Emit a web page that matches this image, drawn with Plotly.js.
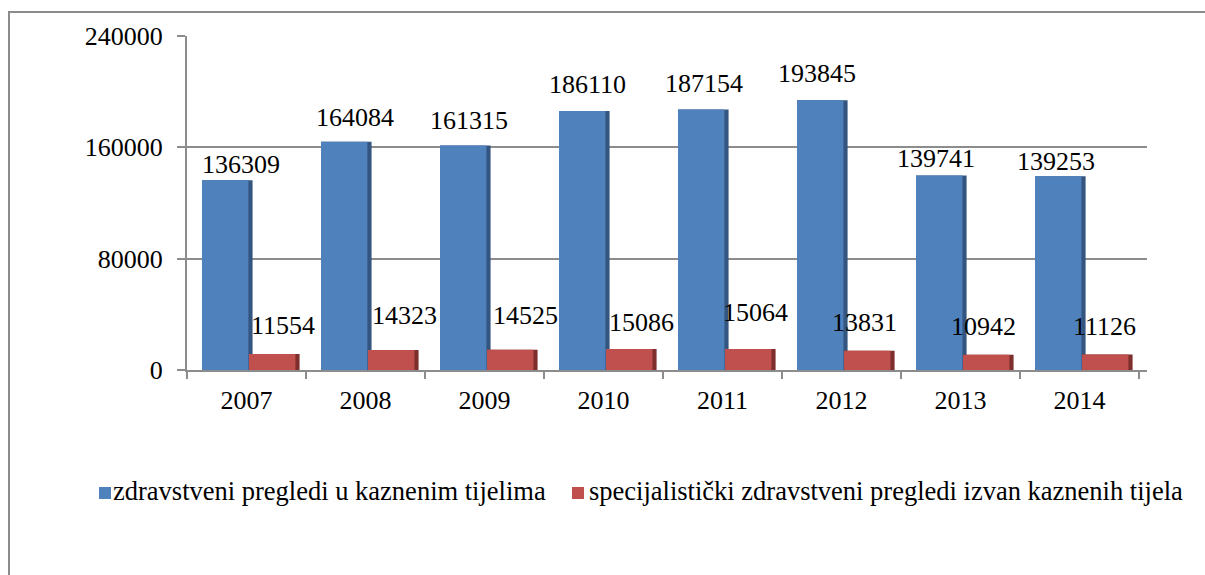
<!DOCTYPE html>
<html>
<head>
<meta charset="utf-8">
<script src="https://cdn.plot.ly/plotly-3.0.1.min.js"></script>
<style>
html,body{margin:0;padding:0;width:1205px;height:575px;overflow:hidden;background:#ffffff;}
#frame{position:absolute;left:8px;top:11px;width:1400px;height:900px;border-left:2px solid #8c8c8c;border-top:2px solid #8c8c8c;}
#chart{position:absolute;left:0;top:0;width:1205px;height:575px;}
</style>
</head>
<body>
<div id="frame"></div>
<div id="chart"></div>
<script>
// ---- data ----
const years = ['2007','2008','2009','2010','2011','2012','2013','2014'];
const seriesNames = ['zdravstveni pregledi u kaznenim tijelima',
                     'specijalistički zdravstveni pregledi izvan kaznenih tijela'];
const preglediUTijelima = [136309,164084,161315,186110,187154,193845,139741,139253];
const specijalistickiIzvan = [11554,14323,14525,15086,15064,13831,10942,11126];
const yTickValues = [0,80000,160000,240000];

// ---- label nudges (pixels, layout only) ----
const blueNudgeX = [13.5,8.5,4,3,1,-5.5,-5.5,-4.5];
const blueNudgeY = [6,15,16,17,17,17,8,5];
const redNudgeX  = [9,11,13,10,5,-5,-5,-2.5];
const redNudgeY  = [19,25,25,17,27,19,19,19];

// ---- style ----
const FONT = '"Liberation Serif", "Times New Roman", serif';
const blueFace = '#4f81bd', blueSide = '#34557f';
const redFace  = '#c0504d', redSide  = '#7e2f2d';
const blueOff = -0.374, redOff = 0.021;
const sideW = 0.425, faceW = 0.39;
const faceColors = [blueFace, redFace];

function barTrace(vals, off, w, color, name){
  return {type:'bar', x: years, y: vals, offset: off, width: w,
          marker:{color: color, line:{width:0}}, name: name,
          showlegend: false, hoverinfo:'skip'};
}
const traces = [
  barTrace(preglediUTijelima, blueOff, sideW, blueSide, seriesNames[0]),
  barTrace(preglediUTijelima, blueOff, faceW, blueFace, seriesNames[0]),
  barTrace(specijalistickiIzvan, redOff, sideW, redSide, seriesNames[1]),
  barTrace(specijalistickiIzvan, redOff, faceW, redFace, seriesNames[1])
];

const annotations = [];
years.forEach((yr, i) => {
  annotations.push({x: i + blueOff + sideW/2, y: preglediUTijelima[i], xref:'x', yref:'y',
    text: String(preglediUTijelima[i]), showarrow:false, yanchor:'bottom', xanchor:'center',
    xshift: blueNudgeX[i], yshift: blueNudgeY[i] - 7,
    font:{family:FONT, size:26, color:'#000'}});
  annotations.push({x: i + redOff + sideW/2, y: specijalistickiIzvan[i], xref:'x', yref:'y',
    text: String(specijalistickiIzvan[i]), showarrow:false, yanchor:'bottom', xanchor:'center',
    xshift: redNudgeX[i], yshift: redNudgeY[i] - 7,
    font:{family:FONT, size:26, color:'#000'}});
});

// ---- manual legend (pixel layout -> paper coords) ----
const PL = 187, PW = 960, PT = 36, PH = 334;
const px2x = p => (p - PL) / PW;
const py2y = p => (PT + PH - p) / PH;
const markerSize = 12, markerCY = 493, textCY = 491, legendFont = 26.5;
const legendMarkerLeft = [99, 572];
const shapes = [];
seriesNames.forEach((nm, k) => {
  const x0 = legendMarkerLeft[k];
  shapes.push({type:'rect', xref:'paper', yref:'paper',
    x0: px2x(x0), x1: px2x(x0 + markerSize),
    y0: py2y(markerCY + markerSize/2), y1: py2y(markerCY - markerSize/2),
    fillcolor: faceColors[k], line:{width:0}});
});
annotations.push({xref:'paper', yref:'paper', x: px2x(548), y: py2y(textCY),
  xanchor:'right', yanchor:'middle', showarrow:false, text: seriesNames[0],
  font:{family:FONT, size:legendFont, color:'#000'}});
annotations.push({xref:'paper', yref:'paper', x: px2x(587), y: py2y(textCY),
  xanchor:'left', yanchor:'middle', showarrow:false, text: seriesNames[1],
  font:{family:FONT, size:legendFont, color:'#000'}});

const layout = {
  width:1205, height:575,
  margin:{l:187, r:58, t:36, b:205, pad:0},
  paper_bgcolor:'rgba(0,0,0,0)', plot_bgcolor:'rgba(0,0,0,0)',
  barmode:'overlay',
  font:{family:FONT, size:26, color:'#000'},
  xaxis:{type:'category', range:[-0.5, 7.567], tickson:'boundaries',
         ticks:'outside', ticklen:7, tickwidth:2, tickcolor:'#8c8c8c',
         showline:true, linecolor:'#8c8c8c', linewidth:2,
         showgrid:false, zeroline:false, ticklabelstandoff:6,
         tickfont:{family:FONT, size:26, color:'#000'}},
  yaxis:{range:[0,240000], tickvals:yTickValues, ticktext:yTickValues.map(String),
         ticks:'outside', ticklen:8, tickwidth:2, tickcolor:'#8c8c8c',
         showline:true, linecolor:'#8c8c8c', linewidth:2,
         showgrid:true, gridcolor:'#8c8c8c', gridwidth:2, zeroline:false,
         ticklabelstandoff:9,
         tickfont:{family:FONT, size:26, color:'#000'}},
  showlegend:false,
  shapes: shapes,
  annotations: annotations
};

Plotly.newPlot('chart', traces, layout, {staticPlot:true, displayModeBar:false});
</script>
</body>
</html>
